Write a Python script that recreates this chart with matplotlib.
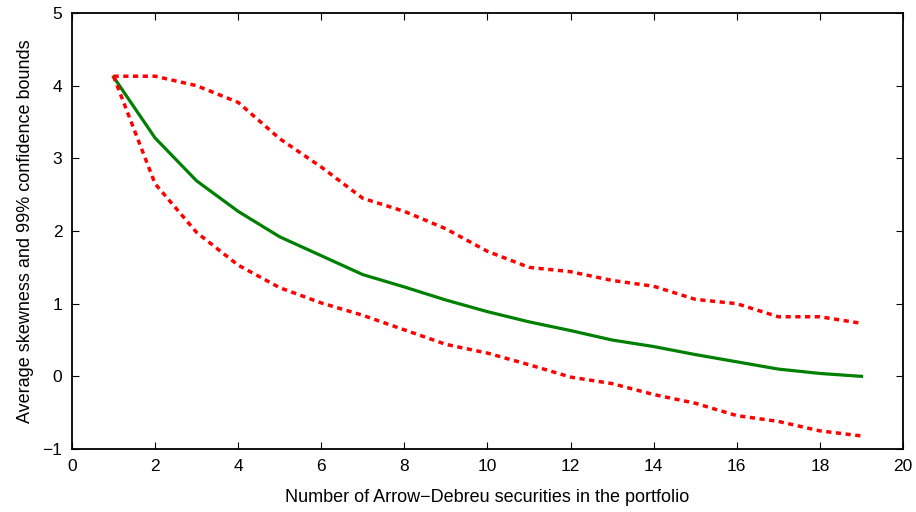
import numpy as np
from matplotlib import pyplot as plt

plt.rcParams['font.family'] = ['Liberation Sans', 'DejaVu Sans']

# number of securities in the portfolio
n = np.arange(1, 20)

# average skewness
mean_skew = [4.12, 3.28, 2.69, 2.27, 1.92, 1.66, 1.40, 1.23, 1.05, 0.89,
             0.75, 0.63, 0.50, 0.41, 0.30, 0.20, 0.10, 0.04, 0.00]
# 99% confidence bounds
upper = [4.13, 4.13, 4.00, 3.77, 3.27, 2.88, 2.45, 2.27, 2.03, 1.72,
         1.50, 1.44, 1.32, 1.24, 1.06, 1.00, 0.82, 0.82, 0.73]
lower = [4.13, 2.65, 1.98, 1.53, 1.22, 1.01, 0.84, 0.64, 0.44, 0.32,
         0.16, -0.01, -0.10, -0.25, -0.37, -0.54, -0.62, -0.75, -0.82]

fig = plt.figure(figsize=(9.16, 5.12), dpi=100)
ax = fig.add_axes([0.0786, 0.123, 0.9072, 0.8516])

ax.plot(n, mean_skew, color='#008000', lw=2.3)
ax.plot(n, upper, color='#ff0000', lw=2.5, dashes=(1.5, 1.3))
ax.plot(n, lower, color='#ff0000', lw=2.5, dashes=(1.5, 1.3))

ax.set_xlim(0, 20)
ax.set_ylim(-1, 5)
ax.set_xticks(range(0, 21, 2))
ax.set_yticks(range(-1, 6))
ax.set_yticklabels(['\u22121', '0', '1', '2', '3', '4', '5'])
ax.tick_params(direction='in', top=True, right=True, length=5, labelsize=12.5, pad=7)
for sp_ in ax.spines.values():
    sp_.set_linewidth(1.3)

ax.set_xlabel('Number of Arrow\u2212Debreu securities in the portfolio', fontsize=13, labelpad=11)
ax.set_ylabel('Average skewness and 99% confidence bounds', fontsize=13, labelpad=6)

fig.savefig('out.png', dpi=100)
